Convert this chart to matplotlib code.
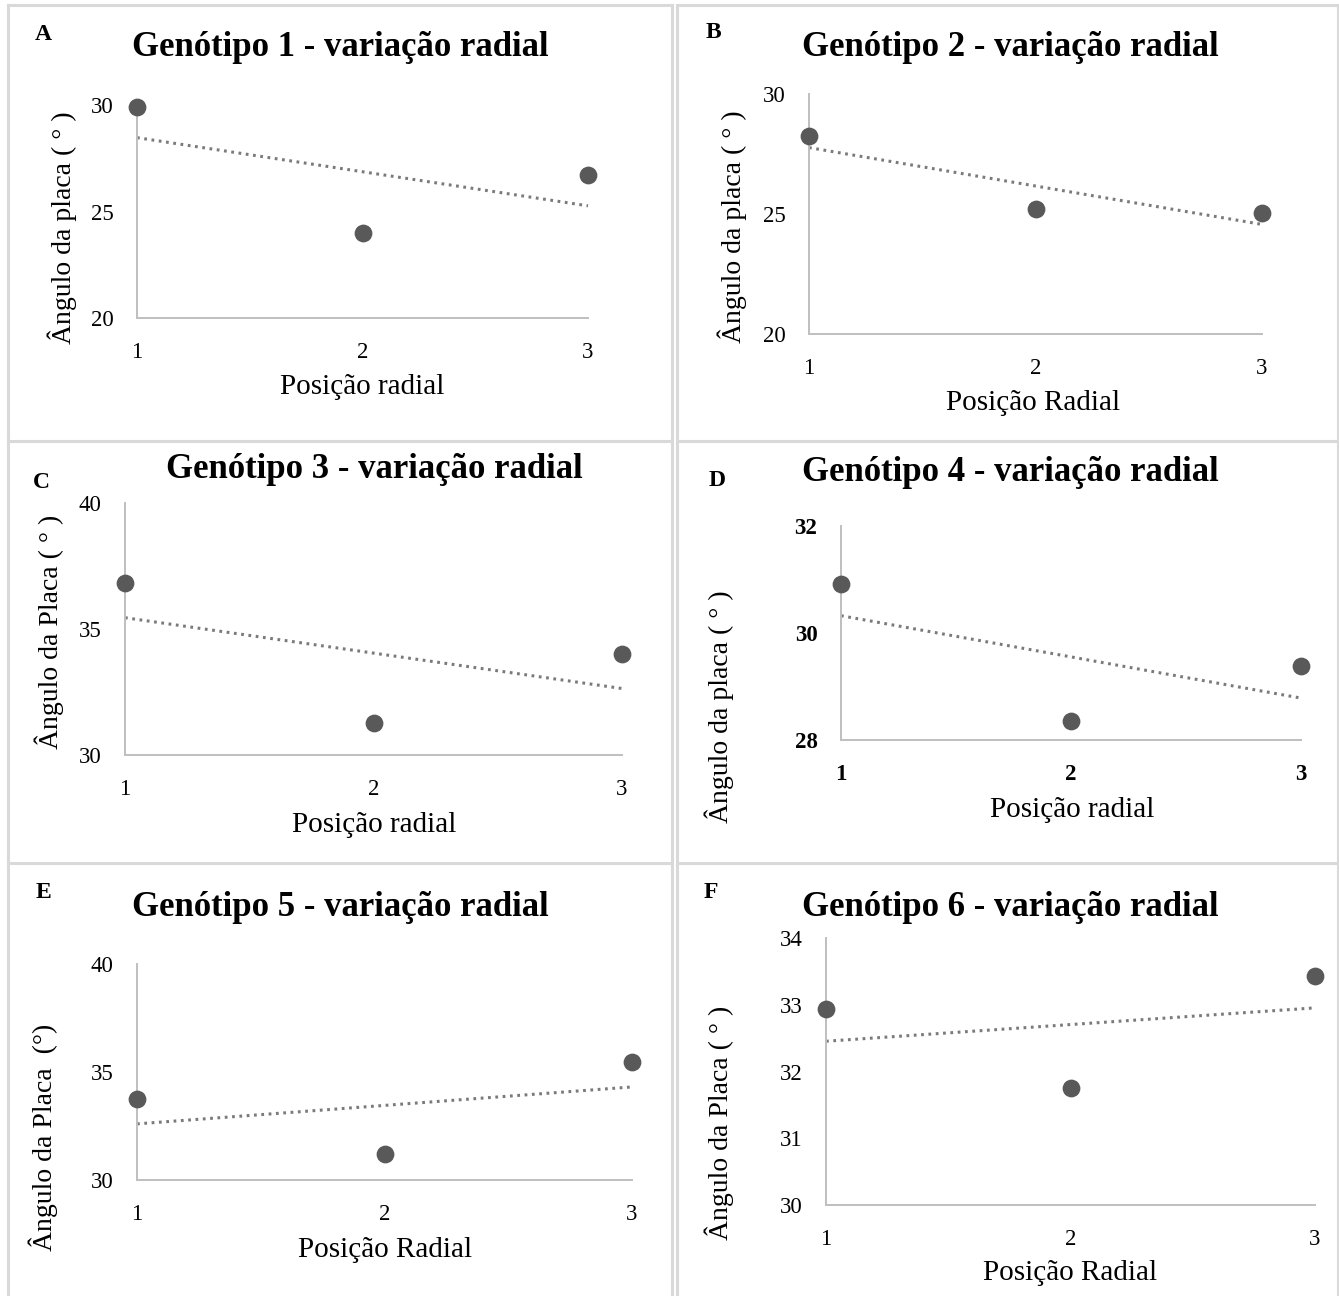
import numpy as np
import matplotlib
matplotlib.use("Agg")
import matplotlib.pyplot as plt
from matplotlib.lines import Line2D

plt.rcParams['font.family'] = ['Liberation Serif', 'DejaVu Serif']

# ---------------- data ----------------
positions = [1, 2, 3]
x_ticks = [1, 2, 3]

g1_values = [29.9, 24.0, 26.7]
g2_values = [28.25, 25.2, 25.05]
g3_values = [36.83, 31.28, 34.02]
g4_values = [30.92, 28.36, 29.38]
g5_values = [33.73, 31.19, 35.44]
g6_values = [32.93, 31.75, 33.43]

titles = ["Genótipo 1 - variação radial", "Genótipo 2 - variação radial",
          "Genótipo 3 - variação radial", "Genótipo 4 - variação radial",
          "Genótipo 5 - variação radial", "Genótipo 6 - variação radial"]
letters = ["A", "B", "C", "D", "E", "F"]
xlabels = ["Posição radial", "Posição Radial", "Posição radial",
           "Posição radial", "Posição Radial", "Posição Radial"]
ylabels = ["Ângulo da placa ( ° )", "Ângulo da placa ( ° )", "Ângulo da Placa ( ° )",
           "Ângulo da placa ( ° )", "Ângulo da Placa  (°)", "Ângulo da Placa ( ° )"]
y_ticks = [[20, 25, 30], [20, 25, 30], [30, 35, 40],
           [28, 30, 32], [30, 35, 40], [30, 31, 32, 33, 34]]
series = [g1_values, g2_values, g3_values, g4_values, g5_values, g6_values]

# ---------------- layout (pixels, top-left origin) ----------------
W, H = 1339, 1296
fig = plt.figure(figsize=(W / 100, H / 100), dpi=100)

def fx(px):
    return px / W

def fy(py):
    return 1 - py / H

# axes boxes: (x at 1, x at 3, y top, y bottom)
boxes = [(137, 588, 105, 318), (809, 1262, 94, 334),
         (125, 622, 503, 755), (841, 1301, 526, 740),
         (137, 632, 964, 1180), (826, 1315, 938, 1205)]
title_pos = [(340, 47), (1010, 48), (374, 470), (1010, 472), (340, 908), (1010, 907)]
letter_pos = [(43, 34), (713, 33), (41, 482), (717, 480), (43, 893), (711, 893)]
xlabel_pos = [(362, 387), (1033, 403), (374, 825), (1072, 810), (385, 1250), (1070, 1273)]
ylabel_pos = [(62, 228), (732, 227), (49, 632), (719, 707), (43, 1137), (719, 1123)]

GRID = '#d9d9d9'
# panel borders
def hline(y, x0, x1):
    fig.add_artist(Line2D([fx(x0), fx(x1)], [fy(y), fy(y)], color=GRID, lw=2.2,
                          transform=fig.transFigure))

def vline(x, y0, y1):
    fig.add_artist(Line2D([fx(x), fx(x)], [fy(y0), fy(y1)], color=GRID, lw=2.2,
                          transform=fig.transFigure))

hline(5, 8, 672); hline(5, 677, 1338)
hline(441, 8, 672); hline(441, 677, 1338)
hline(863, 8, 672); hline(863, 677, 1338)
vline(8, 5, 1296); vline(672, 5, 1296); vline(677, 5, 1296); vline(1337.5, 5, 1296)

for i in range(6):
    x1, x3, yt, yb = boxes[i]
    ax = fig.add_axes([fx(x1), fy(yb), (x3 - x1) / W, (yb - yt) / H])
    yv = np.array(series[i])
    xv = np.array(positions)
    ax.set_xlim(1, 3)
    ax.set_ylim(y_ticks[i][0], y_ticks[i][-1])
    # trendline (linear fit)
    k, b = np.polyfit(xv, yv, 1)
    xt = np.array([1, 3])
    ax.plot(xt, k * xt + b, color='#7a7a7a', lw=2.2, linestyle=(0, (0.9, 1.5)),
            clip_on=False, zorder=2)
    ax.plot(xv, yv, 'o', color='#595959', markersize=12.8, markeredgewidth=0,
            clip_on=False, zorder=3)
    for s in ['top', 'right']:
        ax.spines[s].set_visible(False)
    for s in ['left', 'bottom']:
        ax.spines[s].set_color('#bfbfbf')
        ax.spines[s].set_linewidth(1.4)
    ax.set_xticks(x_ticks)
    ax.set_yticks(y_ticks[i])
    weight = 'bold' if i == 3 else 'normal'
    ax.set_xticklabels([str(t) for t in x_ticks], fontsize=16.5, fontweight=weight)
    ax.set_yticklabels([str(t) for t in y_ticks[i]], fontsize=16.5, fontweight=weight)
    ax.tick_params(axis='both', length=0)
    ax.tick_params(axis='x', pad=17)
    ax.tick_params(axis='y', pad=17)
    ax.patch.set_alpha(0)

    fig.text(fx(title_pos[i][0]), fy(title_pos[i][1]), titles[i], fontsize=25,
             fontweight='bold', ha='center', va='center')
    fig.text(fx(letter_pos[i][0]), fy(letter_pos[i][1]), letters[i], fontsize=17,
             fontweight='bold', ha='center', va='center')
    fig.text(fx(xlabel_pos[i][0]), fy(xlabel_pos[i][1]), xlabels[i], fontsize=21,
             ha='center', va='center')
    fig.text(fx(ylabel_pos[i][0]), fy(ylabel_pos[i][1]), ylabels[i], fontsize=20,
             ha='center', va='center', rotation=90)

fig.savefig('out.png', dpi=100, facecolor='white')
